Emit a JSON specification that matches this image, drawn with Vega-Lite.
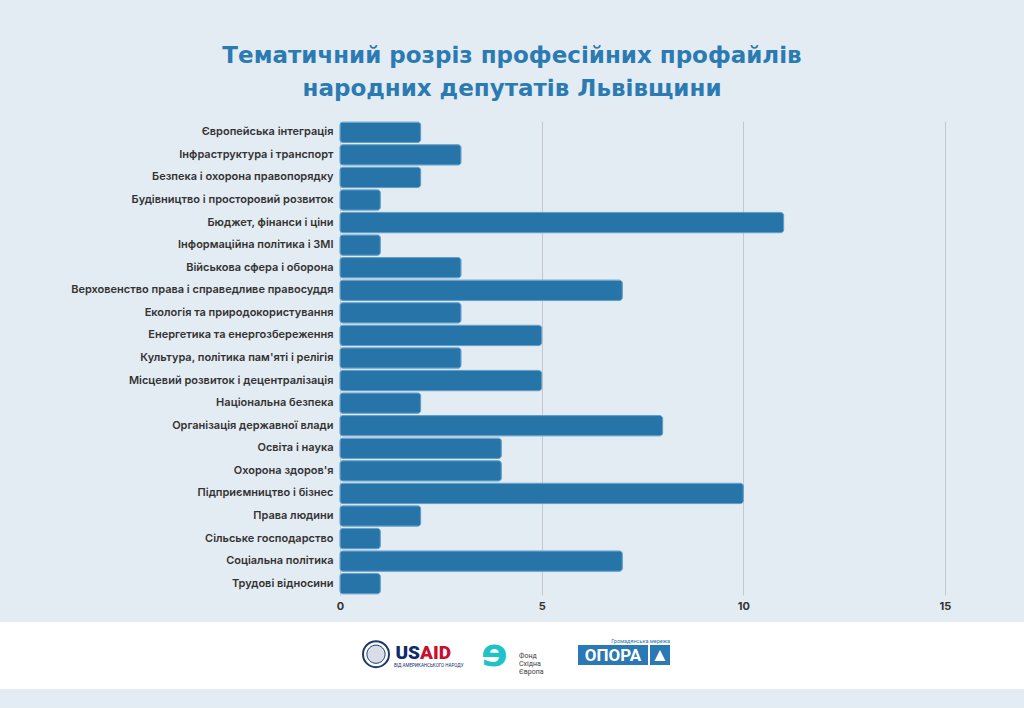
{
  "$schema": "https://vega.github.io/schema/vega-lite/v6.json",
  "background": "#e4ecf3",
  "padding": {"top": 45, "left": 0, "right": 0, "bottom": 20},
  "title": {
    "text": ["Тематичний розріз професійних профайлів", "народних депутатів Львівщини"],
    "font": "DejaVu Sans",
    "fontSize": 23,
    "fontWeight": 700,
    "color": "#2b7bb2",
    "lineHeight": 33,
    "anchor": "middle",
    "offset": 20
  },
  "spacing": 11,
  "config": {"view": {"stroke": null}, "font": "Inter"},
  "vconcat": [
    {
      "width": 1024,
      "height": 474,
      "data": {
        "values": [
          {"topic": "Європейська інтеграція", "count": 2},
          {"topic": "Інфраструктура і транспорт", "count": 3},
          {"topic": "Безпека і охорона правопорядку", "count": 2},
          {"topic": "Будівництво і просторовий розвиток", "count": 1},
          {"topic": "Бюджет, фінанси і ціни", "count": 11},
          {"topic": "Інформаційна політика і ЗМІ", "count": 1},
          {"topic": "Військова сфера і оборона", "count": 3},
          {"topic": "Верховенство права і справедливе правосуддя", "count": 7},
          {"topic": "Екологія та природокористування", "count": 3},
          {"topic": "Енергетика та енергозбереження", "count": 5},
          {"topic": "Культура, політика пам'яті і релігія", "count": 3},
          {"topic": "Місцевий розвиток і децентралізація", "count": 5},
          {"topic": "Національна безпека", "count": 2},
          {"topic": "Організація державної влади", "count": 8},
          {"topic": "Освіта і наука", "count": 4},
          {"topic": "Охорона здоров'я", "count": 4},
          {"topic": "Підприємництво і бізнес", "count": 10},
          {"topic": "Права людини", "count": 2},
          {"topic": "Сільське господарство", "count": 1},
          {"topic": "Соціальна політика", "count": 7},
          {"topic": "Трудові відносини", "count": 1}
        ]
      },
      "mark": {"type": "bar", "color": "#2774a9", "cornerRadius": 3, "stroke": "#5e9cc9", "strokeWidth": 1},
      "encoding": {
        "y": {
          "field": "topic",
          "type": "nominal",
          "sort": null,
          "scale": {"paddingInner": 0.1, "paddingOuter": 0.05},
          "axis": {
            "title": null,
            "offset": -340,
            "ticks": false,
            "domain": false,
            "labelPadding": 7,
            "labelFont": "Inter",
            "labelFontSize": 11,
            "labelFontWeight": 600,
            "labelColor": "#333333",
            "labelLimit": 320
          }
        },
        "x": {
          "field": "count",
          "type": "quantitative",
          "scale": {"domain": [0, 15], "range": [340, 945], "nice": false},
          "axis": {
            "title": null,
            "values": [0, 5, 10, 15],
            "ticks": false,
            "domain": false,
            "grid": true,
            "gridColor": "#c4c8cc",
            "labelFlush": false,
            "labelFontSize": 11,
            "labelFontWeight": 700,
            "labelColor": "#333333",
            "labelPadding": 5
          }
        }
      }
    },
    {
      "width": 1024,
      "height": 67,
      "view": {"fill": "#ffffff", "stroke": null},
      "encoding": {
        "x": {
          "field": "org",
          "type": "nominal",
          "scale": {"type": "point", "domain": ["USAID", "Фонд", "ОПОРА"], "range": [404.4, 619.6], "padding": 0},
          "axis": null
        }
      },
      "layer": [
        {
          "data": {"values": [{"org": "USAID"}]},
          "mark": {"type": "point", "shape": "M-3.185,-0.1A1,1 0 1,1 -1.185,-0.1A1,1 0 1,1 -3.185,-0.1Z", "size": 676, "filled": true, "fill": "#ffffff", "stroke": "#1b3a6b", "strokeWidth": 2, "opacity": 1}
        },
        {
          "data": {"values": [{"org": "USAID"}]},
          "mark": {"type": "point", "shape": "M-2.885,-0.1A0.7,0.7 0 1,1 -1.485,-0.1A0.7,0.7 0 1,1 -2.885,-0.1Z", "size": 676, "filled": true, "fill": "#d9dde8", "stroke": "#1b3a6b", "strokeWidth": 1, "opacity": 1}
        },
        {
          "data": {"values": [{"org": "USAID", "label": "US"}]},
          "mark": {"type": "text", "align": "right", "baseline": "middle", "dx": 15.6, "dy": -2.5, "font": "Roboto", "fontSize": 19, "fontWeight": 900, "color": "#0b2d6b"},
          "encoding": {"text": {"field": "label"}}
        },
        {
          "data": {"values": [{"org": "USAID", "label": "AID"}]},
          "mark": {"type": "text", "align": "left", "baseline": "middle", "dx": 15.6, "dy": -2.5, "font": "Roboto", "fontSize": 19, "fontWeight": 900, "color": "#c8102e"},
          "encoding": {"text": {"field": "label"}}
        },
        {
          "data": {"values": [{"org": "USAID", "label": "ВІД АМЕРИКАНСЬКОГО НАРОДУ"}]},
          "mark": {"type": "text", "align": "left", "baseline": "middle", "dx": -10.4, "dy": 10.5, "font": "Roboto", "fontSize": 4.5, "color": "#0b2d6b"},
          "encoding": {"text": {"field": "label"}}
        },
        {
          "data": {"values": [{"org": "Фонд", "label": "ɘ"}]},
          "mark": {"type": "text", "align": "center", "baseline": "alphabetic", "dx": -17.5, "dy": 10.5, "font": "DejaVu Sans", "fontSize": 39, "fontWeight": 700, "color": "#1fc3c6"},
          "encoding": {"text": {"field": "label"}}
        },
        {
          "data": {"values": [{"org": "Фонд", "label": "Фонд\nСхідна\nЄвропа"}]},
          "mark": {"type": "text", "align": "left", "baseline": "middle", "dx": 7, "dy": 0.5, "lineBreak": "\n", "lineHeight": 8, "font": "Roboto", "fontSize": 7, "color": "#3c3c3c"},
          "encoding": {"text": {"field": "label"}}
        },
        {
          "data": {"values": [{"org": "ОПОРА"}]},
          "mark": {"type": "point", "shape": "M-4.16,-1.05H2.84V0.95H-4.16Z M3.04,-1.05H5.04V0.95H3.04Z", "size": 400, "filled": true, "fill": "#2a78b4", "strokeWidth": 0, "opacity": 1}
        },
        {
          "data": {"values": [{"org": "ОПОРА"}]},
          "mark": {"type": "point", "shape": "M3.49,0.55H4.59L4.04,-0.55Z", "size": 400, "filled": true, "fill": "#ffffff", "strokeWidth": 0, "opacity": 1}
        },
        {
          "data": {"values": [{"org": "ОПОРА", "label": "ОПОРА"}]},
          "mark": {"type": "text", "align": "center", "baseline": "middle", "dx": -6.6, "dy": 0.5, "font": "Roboto", "fontSize": 17, "fontWeight": 700, "color": "#ffffff"},
          "encoding": {"text": {"field": "label"}}
        },
        {
          "data": {"values": [{"org": "ОПОРА", "label": "Громадянська мережа"}]},
          "mark": {"type": "text", "align": "right", "baseline": "middle", "dx": 50.4, "dy": -14.5, "font": "Roboto", "fontSize": 5.5, "color": "#2a78b4"},
          "encoding": {"text": {"field": "label"}}
        }
      ]
    }
  ]
}
